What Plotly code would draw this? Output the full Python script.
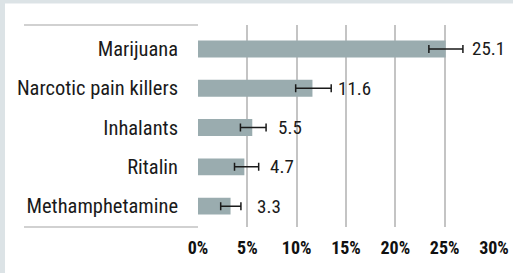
import plotly.graph_objects as go

categories = ["Methamphetamine", "Ritalin", "Inhalants", "Narcotic pain killers", "Marijuana"]
values = [3.3, 4.7, 5.5, 11.6, 25.1]
err_plus = [1.05, 1.45, 1.4, 1.9, 1.75]
err_minus = [1.0, 1.0, 1.2, 1.7, 1.7]
tick_vals = [0, 5, 10, 15, 20, 25, 30]
tick_text = ["0%", "5%", "10%", "15%", "20%", "25%", "30%"]

W, H = 513, 273
ML, MR, MT, MB = 198, 19, 24.5, 45.5
FONT = "Roboto Condensed, sans-serif"
pw = W - ML - MR
ph = H - MT - MB

def px_x(p):
    return (p - ML) / pw

def px_y(p):
    return 1 - (p - MT) / ph

fig = go.Figure()
fig.add_trace(go.Bar(
    y=categories, x=values, orientation="h",
    marker=dict(color="#9aacaf", line=dict(width=0)),
    error_x=dict(type="data", array=err_plus, arrayminus=err_minus,
                 color="#1a1a1a", thickness=1.5, width=4),
    hoverinfo="skip",
))

annotations = []
for c, v in zip(categories, values):
    annotations.append(dict(x=v, y=c, xref="x", yref="y", text=f"{v:.1f}",
                            showarrow=False, xanchor="left", xshift=24,
                            font=dict(family=FONT, size=19, color="#1a1a1a")))

shapes = [
    dict(type="rect", xref="paper", yref="paper", x0=px_x(5), x1=px_x(W + 5),
         y0=px_y(H + 5), y1=px_y(3), fillcolor="white", line=dict(width=0), layer="below"),
    dict(type="line", xref="paper", yref="paper", x0=px_x(24), x1=0, y0=1, y1=1,
         line=dict(color="#c2c2c2", width=1.5)),
    dict(type="line", xref="paper", yref="paper", x0=px_x(24), x1=0, y0=0, y1=0,
         line=dict(color="#c2c2c2", width=1.5)),
]

fig.update_layout(
    width=W, height=H,
    margin=dict(l=ML, r=MR, t=MT, b=MB, pad=0, autoexpand=False),
    paper_bgcolor="#dce3e6", plot_bgcolor="white",
    showlegend=False,
    bargap=0.57,
    annotations=annotations,
    shapes=shapes,
    xaxis=dict(range=[0, 30], tickvals=tick_vals, ticktext=tick_text,
               showgrid=True, gridcolor="#c4c4c4", gridwidth=1.5,
               zeroline=False, showline=False, ticks="", automargin=False,
               ticklabelstandoff=8,
               tickfont=dict(family=FONT, size=18, color="#111111", weight="bold")),
    yaxis=dict(type="category", categoryarray=categories, range=[-0.53, 4.61],
               showgrid=False, zeroline=False, showline=False, ticks="", automargin=False,
               ticklabelstandoff=19,
               tickfont=dict(family=FONT, size=20.5, color="#1a1a1a")),
)

fig.write_html("out.html", config={"displayModeBar": False},
               post_script="document.body.style.margin='0';")
